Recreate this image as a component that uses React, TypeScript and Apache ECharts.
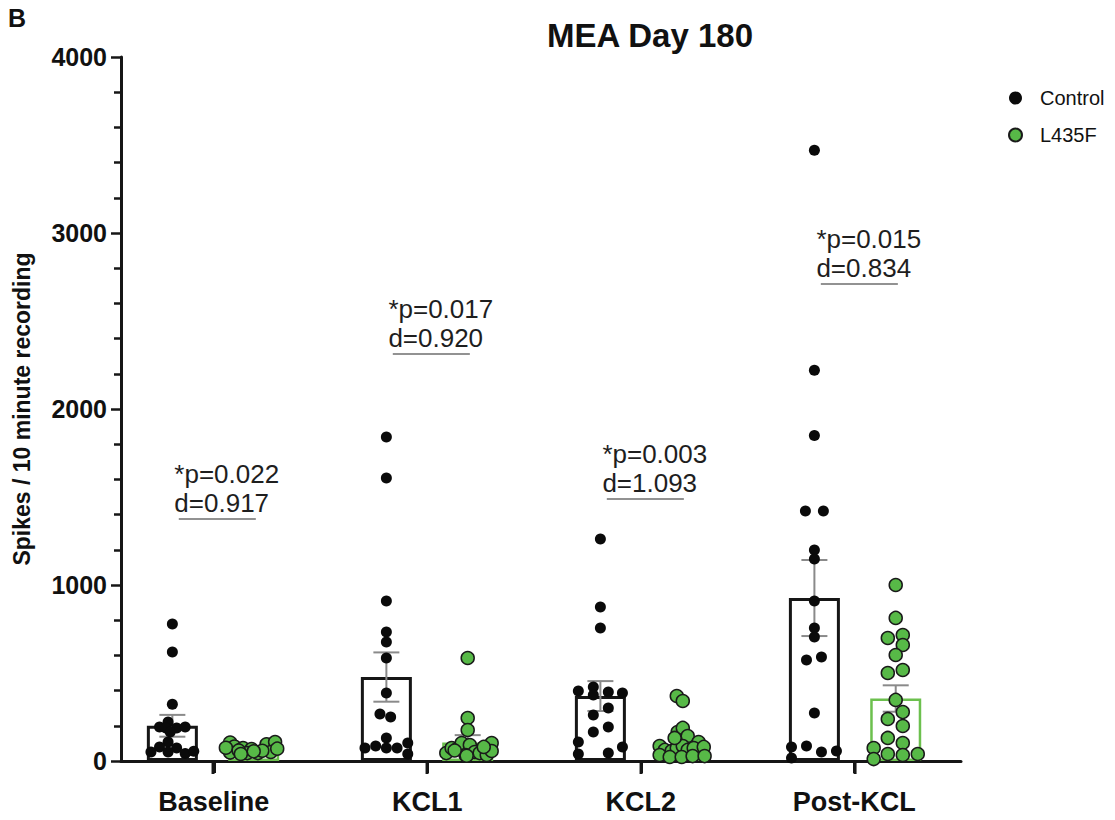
import React, { useEffect, useRef } from "react";
import * as echarts from "echarts";

const FONT = '"Liberation Sans", Arial, Helvetica, sans-serif';

// ---------- data ----------
const categories = ["Baseline", "KCL1", "KCL2", "Post-KCL"];
const controlMean = [200, 477, 369, 926];
const controlSem = [62, 140, 85, 216];
const l435fMean = [65, 105, 92, 355];
const l435fSem = [8, 42, 35, 75];

// individual wells: [x jitter (in category units), spikes]
const controlBaseline = [
  [0, 778], [0, 619], [0, 322], [-0.02, 222], [-0.06, 193], [-0.03, 188], [0.02, 188], [0.06, 193],
  [-0.01, 165], [-0.02, 108], [-0.06, 80], [0.02, 74], [-0.1, 51], [-0.02, 51], [0.06, 42], [0.1, 55],
];
const controlKCL1 = [
  [0, 1841], [0, 1608], [0, 909], [0, 733], [0, 676], [0, 585], [0, 386], [-0.03, 267], [0.02, 250],
  [0, 131], [-0.1, 74], [-0.05, 85], [0, 74], [0.05, 74], [0.1, 102], [0.1, 40],
];
const controlKCL2 = [
  [0, 1261], [0, 875], [0, 756], [-0.103, 398], [-0.033, 420], [-0.033, 375], [0.037, 392], [0.103, 386],
  [0.037, 301], [-0.033, 261], [0.037, 193], [-0.033, 165], [-0.103, 108], [0.103, 80], [-0.103, 40], [0.037, 45],
];
const controlPostKCL = [
  [0, 3470], [0, 2220], [0, 1850], [-0.042, 1420], [0.042, 1420], [0, 1199], [0, 1148], [0, 909], [0, 756],
  [0, 705], [-0.037, 574], [0.033, 591], [0, 273], [-0.107, 80], [-0.037, 85], [0.033, 51], [0.103, 57], [-0.107, 17],
];
const l435fBaseline = [
  [-0.11, 105], [-0.09, 82], [-0.05, 74], [-0.01, 68], [-0.03, 45], [0.02, 45], [0.06, 95], [0.1, 108],
  [0.08, 51], [-0.11, 48], [-0.07, 60], [0.04, 58], [0.11, 70], [0, 55], [-0.13, 75], [-0.06, 40],
];
const l435fKCL1 = [
  [0, 585], [0, 244], [0, 176], [-0.1, 45], [-0.075, 74], [-0.047, 70], [-0.028, 102], [0.01, 91], [-0.01, 34],
  [0.033, 51], [0.056, 45], [0.089, 34], [0.112, 102], [0.112, 57], [-0.005, 30], [-0.061, 60], [0.075, 80],
];
const l435fKCL2 = [
  [-0.023, 369], [0.005, 341], [-0.019, 165], [0.005, 188], [0.028, 142], [-0.103, 85], [-0.079, 63],
  [-0.047, 57], [-0.023, 74], [0.005, 85], [0.028, 63], [0.079, 108], [0.056, 74], [0.103, 80], [-0.103, 34],
  [-0.056, 23], [0, 23], [0.051, 28], [0.107, 28], [-0.033, 131],
];
const l435fPostKCL = [
  [0, 1000], [0, 813], [-0.037, 699], [0.033, 716], [0.033, 659], [0, 602], [-0.037, 500], [0.033, 517],
  [0, 347], [0.033, 278], [-0.037, 239], [0.033, 199], [-0.037, 131], [0.033, 102], [-0.103, 74],
  [-0.103, 11], [-0.037, 40], [0.033, 34], [0.103, 40],
];
const controlPoints = [controlBaseline, controlKCL1, controlKCL2, controlPostKCL];
const l435fPoints = [l435fBaseline, l435fKCL1, l435fKCL2, l435fPostKCL];

const pLabels = ["*p=0.022", "*p=0.017", "*p=0.003", "*p=0.015"];
const dLabels = ["d=0.917", "d=0.920", "d=1.093", "d=0.834"];
const bracketY = [1375, 2313, 1489, 2710];

const groupPos = [1, 2, 3, 4];

// ---------- styling constants ----------
const OFFSET = 0.19;
const AXIS = "#161616";
const GREEN = "#57b947";
const GREEN_BAR = "#6cc04e";

export default function App() {
  const ref = useRef<HTMLDivElement>(null);

  useEffect(() => {
    document.body.style.margin = "0";
    const chart = echarts.init(ref.current as HTMLDivElement, null, { renderer: "svg" });

    const barData: any[] = [];
    const errData: any[] = [];
    groupPos.forEach((g, i) => {
      barData.push({
        value: [g - OFFSET, controlMean[i]],
        itemStyle: { color: "rgba(255,255,255,0)", borderColor: AXIS, borderWidth: 3 },
      });
      barData.push({
        value: [g + OFFSET, l435fMean[i]],
        itemStyle: { color: "rgba(255,255,255,0)", borderColor: GREEN_BAR, borderWidth: 2.5 },
      });
      errData.push([g - OFFSET, controlMean[i], controlSem[i]]);
      errData.push([g + OFFSET, l435fMean[i], l435fSem[i]]);
    });

    const ctrlScatter: number[][] = [];
    controlPoints.forEach((pts, i) =>
      pts.forEach(([j, v]) => ctrlScatter.push([groupPos[i] - OFFSET + j, v]))
    );
    const mutScatter: number[][] = [];
    l435fPoints.forEach((pts, i) =>
      pts.forEach(([j, v]) => mutScatter.push([groupPos[i] + OFFSET + j, v]))
    );

    const annData = groupPos.map((g, i) => [g, bracketY[i]]);
    const tickData = groupPos.map((g) => [g, 0]);

    const option: any = {
      animation: false,
      backgroundColor: "#ffffff",
      textStyle: { fontFamily: FONT },
      grid: [
        { left: 121, right: 154, top: 57, bottom: 59, containLabel: false, outerBoundsMode: "none" },
        { left: 107, right: 154, top: 57, bottom: 59, containLabel: false, outerBoundsMode: "none" },
      ],
      legend: {
        data: ["Control", "L435F"],
        orient: "vertical",
        left: 1003,
        top: 83,
        itemWidth: 13,
        itemHeight: 13,
        itemGap: 17,
        icon: "circle",
        textStyle: { fontSize: 20, fontFamily: FONT, color: "#111", padding: [0, 0, 0, 13] },
      },
      graphic: [
        {
          type: "text",
          x: 8,
          y: 18,
          style: { text: "B", fontSize: 25, fontWeight: "bold", fontFamily: FONT, fill: "#111", verticalAlign: "middle" },
        },
        {
          type: "text",
          x: 650,
          y: 35,
          style: {
            text: "MEA Day 180",
            fontSize: 33,
            fontWeight: "bold",
            fontFamily: FONT,
            fill: "#111",
            align: "center",
            verticalAlign: "middle",
          },
        },
      ],
      xAxis: [
        {
          type: "value",
          gridIndex: 0,
          min: 0.57,
          max: 4.495,
          axisLine: { show: true, onZero: false, lineStyle: { color: AXIS, width: 3 } },
          axisTick: { show: false },
          axisLabel: { show: false },
          splitLine: { show: false },
        },
        {
          type: "category",
          gridIndex: 1,
          data: categories,
          boundaryGap: true,
          position: "bottom",
          axisLine: { show: false },
          axisTick: {
            show: true,
            inside: false,
            alignWithLabel: true,
            length: 12,
            lineStyle: { color: AXIS, width: 3 },
          },
          axisLabel: {
            fontSize: 27,
            fontWeight: "bold",
            fontFamily: FONT,
            color: "#111",
            margin: 27,
          },
          splitLine: { show: false },
        },
      ],
      yAxis: [
        {
          type: "value",
          gridIndex: 0,
          min: 0,
          max: 4000,
          interval: 1000,
          name: "Spikes / 10 minute recording",
          nameLocation: "middle",
          nameGap: 88,
          nameTextStyle: { fontSize: 23, fontWeight: "bold", fontFamily: FONT, color: "#111" },
          axisLine: { show: true, onZero: false, lineStyle: { color: AXIS, width: 3 } },
          axisTick: { show: true, length: 10, lineStyle: { color: AXIS, width: 2.5 } },
          minorTick: { show: true, splitNumber: 5, length: 7, lineStyle: { color: AXIS, width: 2.5 } },
          axisLabel: {
            formatter: (v: number) => String(v),
            fontSize: 25,
            fontWeight: "bold",
            fontFamily: FONT,
            color: "#111",
            margin: 14,
          },
          splitLine: { show: false },
          minorSplitLine: { show: false },
        },
        {
          type: "value",
          gridIndex: 1,
          min: 0,
          max: 4000,
          axisLine: { show: false },
          axisTick: { show: false },
          axisLabel: { show: false },
          splitLine: { show: false },
        },
      ],
      series: [
        {
          name: "means",
          type: "bar",
          barWidth: 51,
          data: barData,
          z: 1,
          silent: true,
        },
        {
          name: "sem",
          type: "custom",
          z: 2,
          silent: true,
          data: errData,
          renderItem: (params: any, api: any) => {
            const x = api.value(0);
            const m = api.value(1);
            const s = api.value(2);
            const top = api.coord([x, m + s]);
            const bot = api.coord([x, m - s]);
            const half = 13;
            const st = { stroke: "#8a8a8a", lineWidth: 2 };
            return {
              type: "group",
              children: [
                { type: "line", shape: { x1: top[0], y1: top[1], x2: bot[0], y2: bot[1] }, style: st },
                { type: "line", shape: { x1: top[0] - half, y1: top[1], x2: top[0] + half, y2: top[1] }, style: st },
                { type: "line", shape: { x1: bot[0] - half, y1: bot[1], x2: bot[0] + half, y2: bot[1] }, style: st },
              ],
            };
          },
        },
        {
          name: "xTicks",
          type: "scatter",
          symbol: "rect",
          symbolSize: [3, 12],
          symbolOffset: [0, 7],
          clip: false,
          silent: true,
          itemStyle: { color: AXIS, opacity: 1 },
          data: tickData,
          z: 6,
        },
        {
          name: "Control",
          type: "scatter",
          symbol: "circle",
          symbolSize: 11,
          itemStyle: { color: "#0a0a0a", opacity: 1 },
          data: ctrlScatter,
          z: 3,
        },
        {
          name: "L435F",
          type: "scatter",
          symbol: "circle",
          symbolSize: 13,
          itemStyle: { color: GREEN, borderColor: "#1a1a1a", borderWidth: 1.5, opacity: 1 },
          data: mutScatter,
          z: 3,
        },
        {
          name: "annotations",
          type: "custom",
          z: 4,
          silent: true,
          data: annData,
          renderItem: (params: any, api: any) => {
            const g = api.value(0);
            const y = api.value(1);
            const i = params.dataIndex;
            const start = api.coord([g - OFFSET + 0.03, y]);
            const end = api.coord([g + OFFSET + 0.01, y]);
            const textX = api.coord([g - OFFSET, y])[0] + 2;
            const ts = { fontSize: 26, fontFamily: FONT, fill: "#1e1e1e", align: "left", verticalAlign: "middle" };
            return {
              type: "group",
              children: [
                {
                  type: "line",
                  shape: { x1: start[0], y1: start[1], x2: end[0], y2: end[1] },
                  style: { stroke: "#6e6e6e", lineWidth: 1.5 },
                },
                { type: "text", style: { ...ts, text: dLabels[i], x: textX, y: start[1] - 16 } },
                { type: "text", style: { ...ts, text: pLabels[i], x: textX, y: start[1] - 45 } },
              ],
            };
          },
        },
      ],
    };

    chart.setOption(option);
    return () => chart.dispose();
  }, []);

  return <div ref={ref} style={{ position: "fixed", left: 0, top: 0, width: 1115, height: 820 }} />;
}
